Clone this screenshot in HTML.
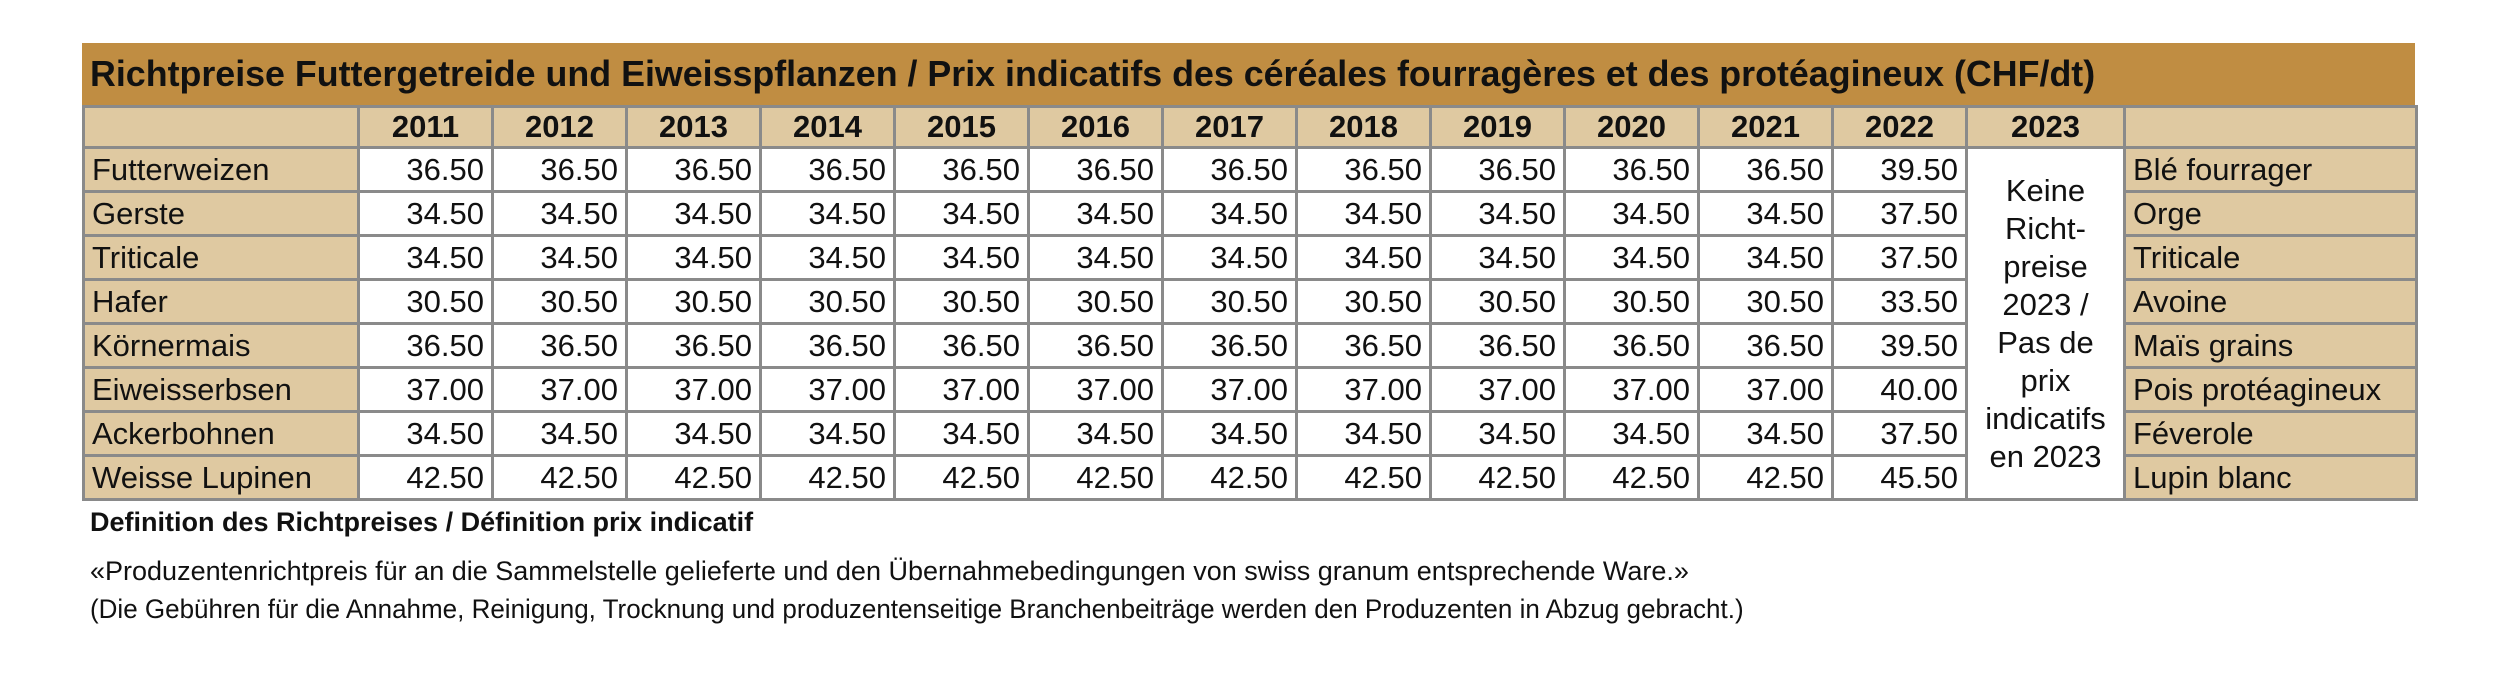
<!DOCTYPE html>
<html><head><meta charset="utf-8"><style>
html,body{margin:0;padding:0;background:#fff;width:2500px;height:673px;overflow:hidden;font-family:"Liberation Sans",Arial,sans-serif;color:#111}
.t{position:absolute;left:82px;top:43px;width:2333px}
.title{height:62px;background:#c08d42;font-weight:bold;font-size:35.8px;line-height:62px;padding-left:8px;box-sizing:border-box;white-space:nowrap}
table{border-collapse:collapse;table-layout:fixed;width:2333px}
td{border:3px solid #8a8a8a;height:41px;padding:0 7px;font-size:31px;line-height:41px;white-space:nowrap;overflow:hidden}
.b{background:#dfc9a1}
.h td{font-weight:bold;text-align:center;background:#dfc9a1;height:38px;line-height:38px}
.n{text-align:right;background:#fff}
.k{text-align:center;background:#fff;line-height:38px;vertical-align:middle;white-space:normal;padding:0}
.d{position:absolute;left:90px;font-size:27px;white-space:nowrap;transform-origin:0 0}
</style></head><body>
<div class="t">
<div class="title">Richtpreise Futtergetreide und Eiweisspflanzen / Prix indicatifs des céréales fourragères et des protéagineux (CHF/dt)</div>
<table>
<colgroup><col style="width:275px"><col span="12" style="width:134px"><col style="width:158px"><col style="width:292px"></colgroup>
<tr class="h"><td></td><td>2011</td><td>2012</td><td>2013</td><td>2014</td><td>2015</td><td>2016</td><td>2017</td><td>2018</td><td>2019</td><td>2020</td><td>2021</td><td>2022</td><td>2023</td><td></td></tr>
<tr><td class="b">Futterweizen</td><td class="n">36.50</td><td class="n">36.50</td><td class="n">36.50</td><td class="n">36.50</td><td class="n">36.50</td><td class="n">36.50</td><td class="n">36.50</td><td class="n">36.50</td><td class="n">36.50</td><td class="n">36.50</td><td class="n">36.50</td><td class="n">39.50</td><td class="k" rowspan="8">Keine<br>Richt-<br>preise<br>2023 /<br>Pas de<br>prix<br>indicatifs<br>en 2023</td><td class="b">Blé fourrager</td></tr>
<tr><td class="b">Gerste</td><td class="n">34.50</td><td class="n">34.50</td><td class="n">34.50</td><td class="n">34.50</td><td class="n">34.50</td><td class="n">34.50</td><td class="n">34.50</td><td class="n">34.50</td><td class="n">34.50</td><td class="n">34.50</td><td class="n">34.50</td><td class="n">37.50</td><td class="b">Orge</td></tr>
<tr><td class="b">Triticale</td><td class="n">34.50</td><td class="n">34.50</td><td class="n">34.50</td><td class="n">34.50</td><td class="n">34.50</td><td class="n">34.50</td><td class="n">34.50</td><td class="n">34.50</td><td class="n">34.50</td><td class="n">34.50</td><td class="n">34.50</td><td class="n">37.50</td><td class="b">Triticale</td></tr>
<tr><td class="b">Hafer</td><td class="n">30.50</td><td class="n">30.50</td><td class="n">30.50</td><td class="n">30.50</td><td class="n">30.50</td><td class="n">30.50</td><td class="n">30.50</td><td class="n">30.50</td><td class="n">30.50</td><td class="n">30.50</td><td class="n">30.50</td><td class="n">33.50</td><td class="b">Avoine</td></tr>
<tr><td class="b">Körnermais</td><td class="n">36.50</td><td class="n">36.50</td><td class="n">36.50</td><td class="n">36.50</td><td class="n">36.50</td><td class="n">36.50</td><td class="n">36.50</td><td class="n">36.50</td><td class="n">36.50</td><td class="n">36.50</td><td class="n">36.50</td><td class="n">39.50</td><td class="b">Maïs grains</td></tr>
<tr><td class="b">Eiweisserbsen</td><td class="n">37.00</td><td class="n">37.00</td><td class="n">37.00</td><td class="n">37.00</td><td class="n">37.00</td><td class="n">37.00</td><td class="n">37.00</td><td class="n">37.00</td><td class="n">37.00</td><td class="n">37.00</td><td class="n">37.00</td><td class="n">40.00</td><td class="b">Pois protéagineux</td></tr>
<tr><td class="b">Ackerbohnen</td><td class="n">34.50</td><td class="n">34.50</td><td class="n">34.50</td><td class="n">34.50</td><td class="n">34.50</td><td class="n">34.50</td><td class="n">34.50</td><td class="n">34.50</td><td class="n">34.50</td><td class="n">34.50</td><td class="n">34.50</td><td class="n">37.50</td><td class="b">Féverole</td></tr>
<tr><td class="b">Weisse Lupinen</td><td class="n">42.50</td><td class="n">42.50</td><td class="n">42.50</td><td class="n">42.50</td><td class="n">42.50</td><td class="n">42.50</td><td class="n">42.50</td><td class="n">42.50</td><td class="n">42.50</td><td class="n">42.50</td><td class="n">42.50</td><td class="n">45.50</td><td class="b">Lupin blanc</td></tr>
</table>
</div>
<div class="d" style="top:507px;font-weight:bold">Definition des Richtpreises / Définition prix indicatif</div>
<div class="d" style="top:556px">«Produzentenrichtpreis für an die Sammelstelle gelieferte und den Übernahmebedingungen von swiss granum entsprechende Ware.»</div>
<div class="d" style="top:594px;transform:scaleX(0.963)">(Die Gebühren für die Annahme, Reinigung, Trocknung und produzentenseitige Branchenbeiträge werden den Produzenten in Abzug gebracht.)</div>
</body></html>
